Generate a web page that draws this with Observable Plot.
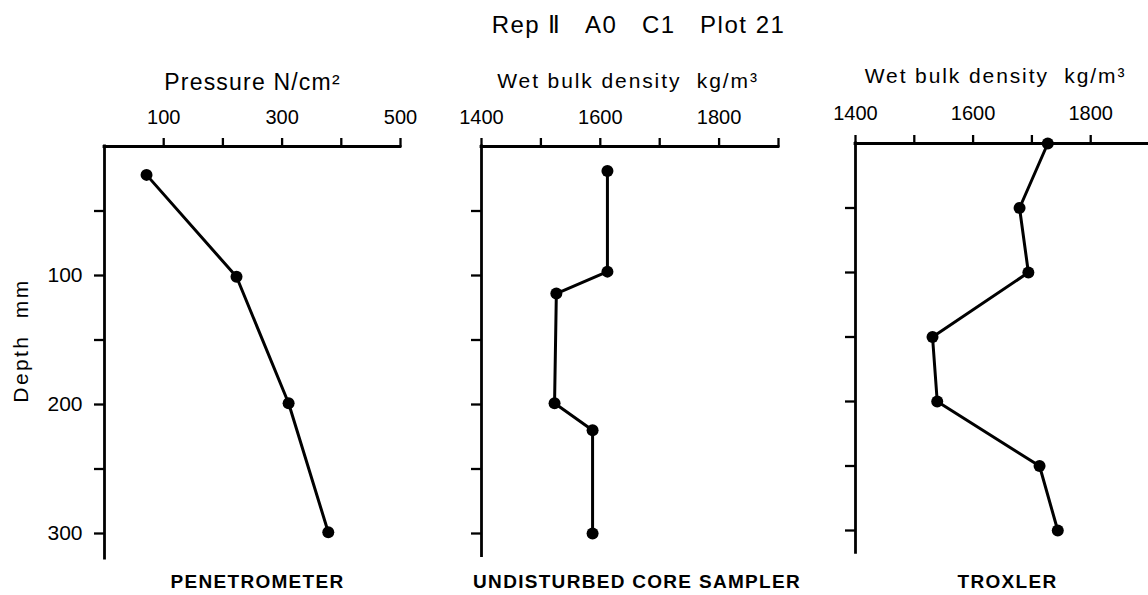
<!DOCTYPE html>
<html><head><meta charset="utf-8">
<script src="https://cdn.jsdelivr.net/npm/d3@7"></script>
<script src="https://cdn.jsdelivr.net/npm/@observablehq/plot@0.6"></script>
<style>
html,body{margin:0;padding:0;background:#fff;overflow:hidden}
#wrap{position:relative;width:1148px;height:595px;overflow:hidden}
#wrap svg{position:absolute;top:0;overflow:visible}
</style></head><body><div id="wrap"></div>
<script>
// ---- data ----
const chartTitle = "Rep \u2161\u00a0\u00a0 A0\u00a0\u00a0 C1\u00a0\u00a0 Plot 21";
const depthTitle = "Depth\u00a0\u00a0mm";
const panelNames = ["PENETROMETER", "UNDISTURBED CORE SAMPLER", "TROXLER"];
const axisTitles = ["Pressure N/cm\u00b2", "Wet bulk density\u00a0\u00a0kg/m\u00b3", "Wet bulk density\u00a0\u00a0kg/m\u00b3"];

const penDepth = [22, 101, 199, 299];
const penPressure = [71, 223, 311, 378];
const pressureTicks = [100, 200, 300, 400, 500];
const pressureTickLabels = [100, 300, 500];

const coreDepth = [19, 97, 114, 199, 220, 300];
const coreDensity = [1612, 1612, 1526, 1523, 1587, 1587];

const troxDepth = [0, 50, 100, 150, 200, 250, 300];
const troxDensity = [1727, 1679, 1694, 1531, 1539, 1713, 1744];

const densityTicks = [1400, 1500, 1600, 1700, 1800, 1900];
const densityTickLabels = [1400, 1600, 1800];
const depthTicks = [50, 100, 150, 200, 250, 300];
const depthTickLabels = [100, 200, 300];

// ---- layout ----
const FONT = "'Liberation Sans', Arial, Helvetica, sans-serif";
const H = 595, SCALE = 1.29;
const layout = [
  {left: 0, width: 440, ml: 104, mr: 40, top: 146, yMax: 319.5, xDomain: [0, 500], ticks: pressureTicks, tickLabels: pressureTickLabels, tp: 14, titleY: 82.6, titleDx: 0, nameDx: 5, showY: true},
  {left: 440, width: 380, ml: 41, mr: 42, top: 146, yMax: 317.5, xDomain: [1400, 1900], ticks: densityTicks, tickLabels: densityTickLabels, tp: 14, titleY: 80.5, titleDx: -2, nameDx: 7, showY: false},
  {left: 820, width: 332, ml: 35, mr: 3, top: 143, yMax: 317.3, xDomain: [1400, 1900], ticks: densityTicks, tickLabels: densityTickLabels, tp: 15, titleY: 75.5, titleDx: -7, nameDx: 5, showY: false}
];
const series = [
  penDepth.map((d, i) => ({depth: d, value: penPressure[i]})),
  coreDepth.map((d, i) => ({depth: d, value: coreDensity[i]})),
  troxDepth.map((d, i) => ({depth: d, value: troxDensity[i]}))
];

const wrap = document.getElementById("wrap");
layout.forEach((L, k) => {
  const mb = H - L.top - L.yMax * SCALE;
  const marks = [
    Plot.ruleY([0], {stroke: "#000", strokeWidth: 2.8, strokeLinecap: "square"}),
    Plot.ruleX([L.xDomain[0]], {stroke: "#000", strokeWidth: 2.8, strokeLinecap: "square"}),
    Plot.axisX(L.ticks, {anchor: "top", tickSize: 9, tickPadding: L.tp, strokeWidth: 2.3, label: null,
      tickFormat: d => L.tickLabels.includes(d) ? String(d) : "", fontSize: 20, fill: "#000", stroke: "#000"}),
    Plot.axisY(depthTicks, {anchor: "left", tickSize: 10, tickPadding: 12, strokeWidth: 2.3, label: null,
      tickFormat: d => (L.showY && depthTickLabels.includes(d)) ? String(d) : "", fontSize: 21, fill: "#000", stroke: "#000"}),
    Plot.line(series[k], {x: "value", y: "depth", stroke: "#000", strokeWidth: 3}),
    Plot.dot(series[k], {x: "value", y: "depth", r: 6, fill: "#000", stroke: "none"}),
    Plot.text([axisTitles[k]], {frameAnchor: "top", lineAnchor: "middle", dy: L.titleY - L.top, dx: L.titleDx, fontSize: k === 0 ? 23 : 21, fill: "#000"}),
    Plot.text([panelNames[k]], {frameAnchor: "top", lineAnchor: "middle", dy: 581 - L.top, dx: L.nameDx, fontSize: 19, fontWeight: "bold", fill: "#000"})
  ];
  if (k === 0) {
    marks.push(Plot.text([depthTitle], {frameAnchor: "left", textAnchor: "middle", lineAnchor: "middle", dx: -83, dy: 340 - (L.top + L.yMax * SCALE / 2) , rotate: -90, fontSize: 21, fill: "#000"}));
  }
  if (k === 1) {
    marks.push(Plot.text([chartTitle], {frameAnchor: "top", lineAnchor: "middle", dy: 24.5 - L.top, dx: 638 - (L.left + (L.ml + L.width - L.mr) / 2), fontSize: 24, fill: "#000"}));
  }
  const svg = Plot.plot({
    width: L.width, height: H,
    marginLeft: L.ml, marginRight: L.mr, marginTop: L.top, marginBottom: mb,
    x: {domain: L.xDomain, axis: null},
    y: {domain: [0, L.yMax], reverse: true, axis: null},
    style: {fontFamily: FONT, color: "#000", background: "transparent", overflow: "visible"},
    marks
  });
  svg.style.left = L.left + "px";
  wrap.appendChild(svg);
});

const spacing = new Map([
  [axisTitles[0], "1.2px"], [axisTitles[1], "1.9px"],
  [panelNames[0], "1.3px"], [panelNames[1], "1.3px"], [panelNames[2], "1.3px"],
  [depthTitle, "2.4px"], [chartTitle, "1.5px"]
]);
d3.selectAll("#wrap svg text").each(function() {
  const s = spacing.get(this.textContent);
  if (s) this.style.letterSpacing = s;
});
</script></body></html>
